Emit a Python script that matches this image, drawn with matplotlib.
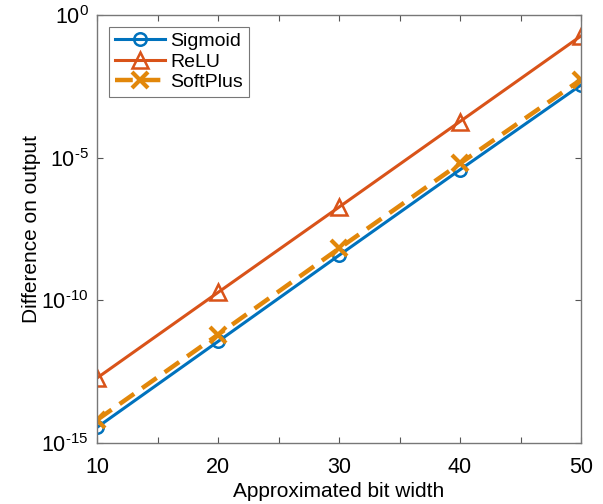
import numpy as np
import matplotlib
matplotlib.use("Agg")
import matplotlib.pyplot as plt
from matplotlib.ticker import FixedLocator, NullLocator

plt.rcParams['font.family'] = ['Liberation Sans', 'DejaVu Sans']
plt.rcParams['mathtext.fontset'] = 'custom'
plt.rcParams['mathtext.rm'] = 'Liberation Sans'

# data (log10 of the difference)
bits = [10, 20, 30, 40, 50]
sigmoid_exp = [-14.45, -11.44, -8.42, -5.42, -2.45]
relu_exp = [-12.72, -9.72, -6.73, -3.73, -0.73]
softplus_exp = [-14.19, -11.2, -8.18, -5.2, -2.26]
ytick_exp = [-15, -10, -5, 0]

sigmoid = 10.0 ** np.array(sigmoid_exp)
relu = 10.0 ** np.array(relu_exp)
softplus = 10.0 ** np.array(softplus_exp)

fig = plt.figure(figsize=(6.03, 5.04), dpi=100)
ax = fig.add_axes([0.161, 0.121, 0.8025, 0.849])

ax.plot(bits, sigmoid, '-o', color='#0072BD', lw=2.2, ms=9, mfc='none', mew=1.8, label='Sigmoid')
ax.plot(bits, relu, '-^', color='#D95319', lw=2.2, ms=11, mfc='none', mew=1.8, label='ReLU')
ax.plot(bits, softplus, '--x', color='#E2870A', lw=3.2, ms=12, mew=3, dashes=(4, 2.2), label='SoftPlus')

ax.set_yscale('log')
ax.set_xlim(10, 50)
ax.set_ylim(1e-15, 1e0)
ax.yaxis.set_major_locator(FixedLocator([10.0 ** e for e in ytick_exp]))
ax.yaxis.set_minor_locator(NullLocator())
ax.set_yticklabels([r'$\mathregular{10^{%s}}$' % str(e).replace('-', '\u2010') for e in ytick_exp])
ax.set_xticks([10, 20, 30, 40, 50])
ax.set_xticks([15, 25, 35, 45], minor=True)
ax.tick_params(which='both', direction='in', top=True, right=True, labelsize=15.5,
               color='#555555', length=4, width=0.8)
ax.tick_params(axis='x', pad=10)
ax.tick_params(axis='y', pad=6)
for s in ax.spines.values():
    s.set_color('#777777')
    s.set_linewidth(1.0)

ax.set_xlabel('Approximated bit width', fontsize=15, labelpad=3)
ax.set_ylabel('Difference on output', fontsize=15, labelpad=0)

leg = ax.legend(loc='upper left', fontsize=14, frameon=True, fancybox=False,
                edgecolor='#555555', handlelength=2.6, borderaxespad=0.6,
                borderpad=0.3, labelspacing=0.15, handletextpad=0.25)
leg.get_frame().set_linewidth(0.8)

plt.savefig('out.png', dpi=100)
